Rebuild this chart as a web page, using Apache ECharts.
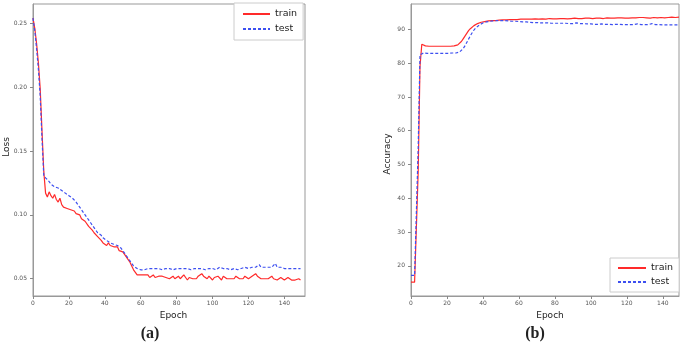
<!DOCTYPE html>
<html>
<head>
<meta charset="utf-8">
<script src="https://cdn.jsdelivr.net/npm/echarts@6/dist/echarts.min.js"></script>
<style>
  html, body { margin: 0; padding: 0; background: #fff; }
  #chart { width: 685px; height: 343px; }
</style>
</head>
<body>
<div id="chart"></div>
<script>
// values, one per epoch (0..149)
var lossTrain = [
  0.254,0.246,0.234,0.219,0.199,0.166,0.134,0.117,0.114,0.118,
  0.115,0.113,0.116,0.112,0.110,0.113,0.108,0.106,0.107,0.105,
  0.105,0.104,0.103,0.103,0.101,0.102,0.100,0.097,0.098,0.095,
  0.094,0.091,0.092,0.088,0.086,0.085,0.083,0.083,0.080,0.078,
  0.079,0.076,0.078,0.076,0.077,0.075,0.074,0.075,0.072,0.073,
  0.071,0.069,0.068,0.065,0.063,0.060,0.057,0.055,0.053,0.054,
  0.053,0.052,0.053,0.052,0.053,0.051,0.052,0.053,0.051,0.050,
  0.052,0.051,0.052,0.053,0.051,0.052,0.050,0.051,0.052,0.050,
  0.051,0.052,0.050,0.051,0.053,0.051,0.049,0.051,0.052,0.050,
  0.051,0.050,0.052,0.051,0.054,0.052,0.051,0.050,0.052,0.053,
  0.049,0.051,0.050,0.052,0.051,0.049,0.052,0.053,0.050,0.051,
  0.050,0.051,0.050,0.052,0.051,0.050,0.051,0.050,0.052,0.051,
  0.050,0.051,0.052,0.053,0.054,0.052,0.051,0.050,0.051,0.050,
  0.049,0.050,0.051,0.052,0.050,0.051,0.049,0.050,0.051,0.050,
  0.049,0.050,0.051,0.050,0.049,0.050,0.049,0.050,0.050,0.049
];
var lossTest = [
  0.254,0.244,0.230,0.214,0.193,0.160,0.131,0.129,0.128,0.126,
  0.124,0.123,0.122,0.121,0.121,0.120,0.119,0.118,0.117,0.116,
  0.115,0.114,0.113,0.112,0.110,0.108,0.106,0.104,0.102,0.100,
  0.098,0.096,0.094,0.092,0.090,0.088,0.086,0.085,0.084,0.082,
  0.081,0.080,0.079,0.078,0.078,0.077,0.077,0.076,0.075,0.074,
  0.072,0.070,0.068,0.066,0.064,0.062,0.060,0.059,0.058,0.058,
  0.057,0.058,0.057,0.058,0.058,0.057,0.058,0.059,0.058,0.057,
  0.058,0.058,0.057,0.058,0.058,0.057,0.058,0.058,0.057,0.058,
  0.058,0.057,0.058,0.059,0.058,0.057,0.058,0.058,0.057,0.058,
  0.058,0.059,0.058,0.057,0.058,0.058,0.057,0.058,0.058,0.057,
  0.058,0.058,0.057,0.058,0.059,0.058,0.058,0.057,0.058,0.058,
  0.057,0.058,0.058,0.058,0.057,0.058,0.058,0.058,0.059,0.058,
  0.058,0.058,0.059,0.058,0.059,0.060,0.061,0.059,0.058,0.059,
  0.058,0.059,0.060,0.059,0.060,0.062,0.059,0.058,0.059,0.058,
  0.058,0.058,0.058,0.059,0.058,0.058,0.058,0.058,0.058,0.058
];
var accTrain = [
  15.2,15.2,15.2,15.2,48,79,85.6,85.3,85.1,85.0,
  85.0,85.0,85.0,85.0,85.0,85.0,85.0,85.0,85.0,85.0,
  85.0,85.0,85.0,85.1,85.1,85.2,85.4,85.8,86.4,87.2,
  88.0,88.8,89.6,90.2,90.7,91.1,91.4,91.7,91.9,92.1,
  92.2,92.3,92.4,92.5,92.5,92.6,92.6,92.6,92.7,92.7,
  92.7,92.8,92.8,92.8,92.8,92.9,92.8,92.9,92.9,92.9,
  92.9,93.0,92.9,93.0,93.0,93.0,93.1,93.0,93.0,93.1,
  93.1,93.0,93.1,93.1,93.1,93.0,93.1,93.2,93.1,93.1,
  93.2,93.1,93.2,93.2,93.1,93.2,93.2,93.1,92.9,93.2,
  93.2,93.3,93.2,93.2,93.3,93.2,93.3,93.3,93.2,93.3,
  93.3,93.2,93.3,93.3,93.4,93.3,93.3,93.2,93.3,93.4,
  93.3,93.3,93.4,93.3,93.4,93.4,93.3,93.4,93.4,93.3,
  93.4,93.3,93.4,93.4,93.2,93.4,93.3,93.5,93.4,93.5,
  93.4,93.4,93.5,93.3,93.1,93.5,93.5,93.4,93.5,93.5,
  93.5,93.4,93.5,93.5,93.5,93.6,93.5,93.5,93.6,93.6
];
var accTest = [
  17.2,17.2,17.2,17.3,55,82.5,83.0,83.0,82.9,82.9,
  82.9,82.9,82.9,82.9,82.9,82.9,82.9,82.9,82.9,82.9,
  82.9,82.9,82.9,83.0,83.0,83.0,83.1,83.3,83.7,84.3,
  85.1,86.1,87.1,88.1,89.0,89.8,90.4,90.9,91.3,91.6,
  91.9,92.1,92.2,92.3,92.4,92.5,92.5,92.5,92.6,92.6,
  92.6,92.6,92.6,92.5,92.5,92.5,92.4,92.4,92.4,92.3,
  92.3,92.3,92.2,92.2,92.2,92.1,92.1,92.1,92.0,92.0,
  92.0,92.0,91.9,92.0,91.9,91.9,91.9,91.9,91.8,91.9,
  91.8,91.8,91.8,91.8,91.8,91.7,91.8,91.7,91.7,91.9,
  91.7,91.6,91.9,91.7,91.7,91.6,91.7,91.6,91.6,91.6,
  91.6,91.6,91.5,91.6,91.5,91.5,91.6,91.5,91.5,91.5,
  91.5,91.5,91.4,91.5,91.5,91.4,91.5,91.4,91.4,91.5,
  91.4,91.4,91.4,91.5,91.4,91.2,91.6,91.4,91.4,91.4,
  91.4,91.3,91.4,91.2,91.7,91.3,91.4,91.3,91.4,91.3,
  91.3,91.4,91.3,91.3,91.3,91.3,91.3,91.3,91.3,91.3
];
var epochTicks = [0, 20, 40, 60, 80, 100, 120, 140];
var lossTicks = [0.05, 0.10, 0.15, 0.20, 0.25];
var accTicks = [20, 30, 40, 50, 60, 70, 80, 90];

var RED = '#ff2a2a';
var BLUE = '#3d4ff0';

function pairs(arr) {
  return arr.map(function (v, i) { return [i, v]; });
}

function xAxisFor(idx, max) {
  return {
    type: 'value', gridIndex: idx, min: 0, max: max,
    splitLine: { show: false },
    axisLine: { lineStyle: { color: '#999' } },
    axisTick: { length: 3, lineStyle: { color: '#888' }, customValues: epochTicks },
    axisLabel: { fontSize: 6, color: '#555', margin: 4, customValues: epochTicks, fontFamily: 'DejaVu Sans' }
  };
}
function yAxisFor(idx, min, max, ticks, digits) {
  return {
    type: 'value', gridIndex: idx, min: min, max: max,
    splitLine: { show: false },
    axisLine: { show: true, lineStyle: { color: '#999' } },
    axisTick: { show: true, length: 3, lineStyle: { color: '#888' }, customValues: ticks },
    axisLabel: {
      fontSize: 6, color: '#555', margin: 6, customValues: ticks, fontFamily: 'DejaVu Sans',
      formatter: function (v) { return v.toFixed(digits); }
    }
  };
}
function lineSeries(name, data, color, dashed, xi) {
  return {
    name: name, type: 'line', xAxisIndex: xi, yAxisIndex: xi,
    data: pairs(data), symbol: 'none', silent: true, animation: false,
    lineStyle: { color: color, width: 1.2, type: dashed ? [3, 2] : 'solid' },
    itemStyle: { color: color }
  };
}
function label(text, x, y, size, opts) {
  return Object.assign({
    type: 'text', x: x, y: y,
    style: {
      text: text, fontSize: size, fill: '#222', fontFamily: 'DejaVu Sans',
      align: 'center', verticalAlign: 'middle'
    }
  }, opts || {});
}

var chart = echarts.init(document.getElementById('chart'));
var option = {
  backgroundColor: '#fff',
  animation: false,
  grid: [
    { left: 33, top: 4, width: 272, height: 292, show: true, borderColor: '#999', borderWidth: 1 },
    { left: 411, top: 4, width: 268, height: 292, show: true, borderColor: '#999', borderWidth: 1 }
  ],
  xAxis: [xAxisFor(0, 151.5), xAxisFor(1, 149)],
  yAxis: [
    yAxisFor(0, 0.0365, 0.265, lossTicks, 2),
    yAxisFor(1, 11.1, 97.5, accTicks, 0)
  ],
  legend: [
    {
      orient: 'vertical', left: 234, top: 3, padding: [6, 6, 6, 8], itemGap: 5,
      itemWidth: 27, itemHeight: 10, borderColor: '#ccc', borderWidth: 1, backgroundColor: '#fff',
      itemStyle: { opacity: 0 }, lineStyle: { width: 2 },
      textStyle: { fontSize: 9.5, color: '#222', fontFamily: 'DejaVu Sans' },
      data: ['train', 'test'],
      selectedMode: false
    },
    {
      orient: 'vertical', left: 610, top: 258, padding: [5, 6, 5, 7], itemGap: 4,
      itemWidth: 28, itemHeight: 10, borderColor: '#ccc', borderWidth: 1, backgroundColor: '#fff',
      itemStyle: { opacity: 0 }, lineStyle: { width: 2 },
      textStyle: { fontSize: 9.5, color: '#222', fontFamily: 'DejaVu Sans' },
      data: ['train ', 'test '],
      formatter: function (n) { return n.trim(); },
      selectedMode: false
    }
  ],
  series: [
    lineSeries('train', lossTrain, RED, false, 0),
    lineSeries('test', lossTest, BLUE, true, 0),
    lineSeries('train ', accTrain, RED, false, 1),
    lineSeries('test ', accTest, BLUE, true, 1)
  ],
  graphic: [
    label('Epoch', 173.5, 316, 9),
    label('Epoch', 550, 316, 9),
    label('Loss', 6.5, 147, 9, { rotation: Math.PI / 2 }),
    label('Accuracy', 388, 154, 9, { rotation: Math.PI / 2 }),
    label('(a)', 150, 334, 16, {}),
    label('(b)', 535, 334, 16, {})
  ]
};
option.graphic[4].style.fontFamily = 'Liberation Serif';
option.graphic[4].style.fontWeight = 'bold';
option.graphic[5].style.fontFamily = 'Liberation Serif';
option.graphic[5].style.fontWeight = 'bold';
chart.setOption(option);
</script>
</body>
</html>
